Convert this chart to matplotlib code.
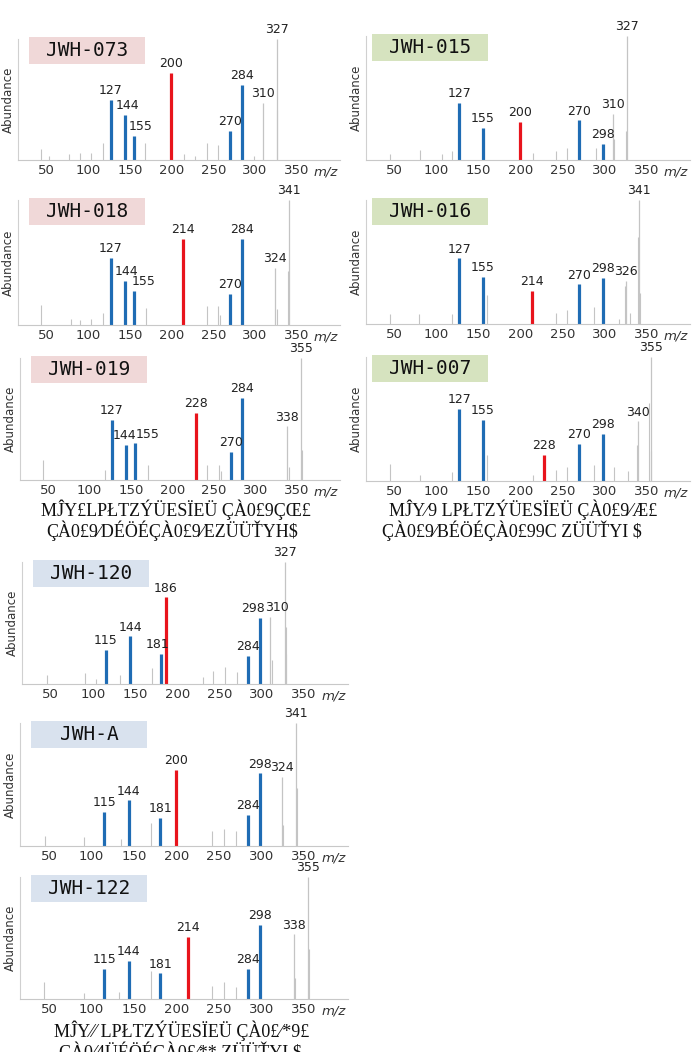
import numpy as np
import matplotlib
matplotlib.use("Agg")
import matplotlib.pyplot as plt
from matplotlib.patches import Rectangle

# compound names and title box colours
names = ["JWH-073", "JWH-015", "JWH-018", "JWH-016", "JWH-019", "JWH-007",
         "JWH-120", "JWH-A", "JWH-122"]
box_colors = ["#f0d8d8", "#d6e3bf", "#f0d8d8", "#d6e3bf", "#f0d8d8", "#d6e3bf",
              "#d9e2ee", "#d9e2ee", "#d9e2ee"]

# labelled blue fragment ions (m/z, relative abundance %)
blue_mz = [
    [127, 144, 155, 270, 284],
    [127, 155, 270, 298],
    [127, 144, 155, 270, 284],
    [127, 155, 270, 298],
    [127, 144, 155, 270, 284],
    [127, 155, 270, 298],
    [115, 144, 181, 284, 298],
    [115, 144, 181, 284, 298],
    [115, 144, 181, 284, 298],
]
blue_ab = [
    [50, 37, 20, 24, 62],
    [46, 26, 32, 13],
    [54, 35, 27, 25, 69],
    [53, 38, 32, 37],
    [49, 29, 30, 23, 67],
    [58, 49, 30, 38],
    [28, 39, 25, 23, 54],
    [28, 37, 23, 25, 59],
    [25, 31, 21, 25, 61],
]
# red key ion
red_mz = [200, 200, 214, 214, 228, 228, 186, 200, 214]
red_ab = [72, 31, 69, 27, 55, 21, 71, 62, 51]

# labelled grey ions
glab_mz = [
    [310, 327], [310, 327], [324, 341], [326, 341], [338, 355], [340, 355],
    [310, 327], [324, 341], [338, 355],
]
glab_ab = [
    [47, 100], [37, 100], [46, 100], [35, 100], [44, 100], [48, 100],
    [55, 100], [56, 100], [53, 100],
]

# unlabelled grey background ions
gray_mz = [
    [44, 53, 77, 90, 103, 118, 168, 215, 228, 242, 256, 299, 326],
    [44, 80, 107, 118, 156, 215, 242, 256, 290, 311, 326],
    [44, 79, 90, 103, 118, 170, 242, 256, 258, 326, 340],
    [44, 79, 118, 160, 242, 256, 288, 318, 324, 330, 340, 342],
    [44, 118, 170, 242, 256, 258, 340, 356],
    [44, 80, 118, 160, 215, 242, 256, 288, 312, 328, 339, 353, 356],
    [46, 91, 104, 132, 170, 230, 242, 256, 270, 312, 328, 329],
    [45, 91, 135, 170, 242, 256, 270, 326, 342],
    [44, 91, 132, 170, 242, 256, 270, 340, 356],
]
gray_ab = [
    [9, 3, 5, 6, 6, 14, 14, 5, 3, 14, 12, 3, 41],
    [5, 8, 5, 7, 22, 6, 7, 10, 10, 17, 23],
    [16, 5, 4, 5, 10, 14, 15, 15, 8, 13, 43],
    [8, 8, 8, 23, 9, 11, 14, 4, 31, 9, 70, 25],
    [16, 8, 12, 12, 12, 7, 11, 25],
    [14, 5, 7, 21, 5, 9, 11, 13, 11, 8, 29, 63, 24],
    [7, 9, 4, 7, 13, 6, 11, 14, 10, 20, 47, 25],
    [8, 7, 6, 19, 12, 14, 12, 17, 47],
    [14, 5, 6, 23, 11, 14, 10, 17, 41],
]

ticks = [50, 100, 150, 200, 250, 300, 350]

garbled = [
    ("M\u0134Y\u00a3LPŁTZÝÜESÏEÜ ÇÀ0£9ÇŒ£", "ÇÀ0£9⁄DÉÖÉÇÀ0£9⁄EZÜÜŤYH$"),
    ("M\u0134Y⁄9 LPŁTZÝÜESÏEÜ ÇÀ0£9⁄Æ£", "ÇÀ0£9⁄BÉÖÉÇÀ0£99C ZÜÜŤYI $"),
    ("M\u0134Y⁄⁄ LPŁTZÝÜESÏEÜ ÇÀ0£⁄*9£", "ÇÀ0⁄4ÜÉÖÉÇÀ0£⁄** ZÜÜŤYI $"),
]

# ---- layout (pixels: left, top, right, bottom) ----
W, H = 696, 1052
rects = [
    (18, 39, 340, 160), (366, 36, 690, 160),
    (18, 200, 340, 325), (366, 200, 690, 324),
    (20, 358, 340, 480), (366, 357, 690, 481),
    (22, 562, 348, 684), (20, 723, 348, 846),
    (20, 877, 348, 999),
]
# label nudges in points (panel index, m/z) -> dx
nudge = {(0, 155): 5, (0, 144): 2, (2, 155): 7, (2, 144): 1,
         (4, 155): 9, (4, 144): -1,
         (6, 298): -5, (6, 310): 5, (6, 181): -3}

blue = "#1f6cb4"
red = "#e8141c"
grey = "#c4c4c4"
txt = "#333333"

fig = plt.figure(figsize=(W / 100, H / 100), dpi=100)

for i, (l, t, r, b) in enumerate(rects):
    ax = fig.add_axes([l / W, 1 - b / H, (r - l) / W, (b - t) / H])
    ax.set_xlim(16, 402)
    ax.set_ylim(0, 100)
    for s in ["top", "right"]:
        ax.spines[s].set_visible(False)
    ax.spines["left"].set_color("#d0d0d0")
    ax.spines["bottom"].set_color("#c8c8c8")
    ax.spines["left"].set_linewidth(0.8)
    ax.spines["bottom"].set_linewidth(0.8)
    ax.set_yticks([])
    ax.set_xticks(ticks)
    ax.tick_params(axis="x", length=0, pad=3, labelsize=9.5, labelcolor=txt)
    ax.set_ylabel("Abundance", fontsize=8.5, color=txt, labelpad=2)

    ax.vlines(gray_mz[i], 0, gray_ab[i], color=grey, lw=0.8)
    ax.vlines(glab_mz[i], 0, glab_ab[i], color=grey, lw=0.9)
    ax.vlines(blue_mz[i], 0, blue_ab[i], color=blue, lw=2.3)
    ax.vlines([red_mz[i]], 0, [red_ab[i]], color=red, lw=2.3)

    allm = blue_mz[i] + [red_mz[i]] + glab_mz[i]
    alla = blue_ab[i] + [red_ab[i]] + glab_ab[i]
    for m, a in zip(allm, alla):
        ax.annotate(str(m), (m, a), xytext=(nudge.get((i, m), 0), 2),
                    textcoords="offset points", ha="center", va="bottom",
                    fontsize=9, color="#222222", annotation_clip=False)

    ax.text(0.955, -0.1, "m/z", transform=ax.transAxes, fontsize=9.5,
            style="italic", color=txt, ha="center", va="center")

    # title box
    bx0 = (l + 11) / W if i % 2 == 0 or i >= 6 else (l + 6) / W
    bw = 116 / W
    bt = 1 - (t - 2) / H
    bh = 27 / H
    fig.patches.append(Rectangle((bx0, bt - bh), bw, bh, transform=fig.transFigure,
                                 facecolor=box_colors[i], edgecolor="none"))
    fig.text(bx0 + bw / 2, bt - bh / 2, names[i], family="DejaVu Sans Mono",
             fontsize=14, ha="center", va="center", color="#111111")

# garbled caption text under panels
cap_pos = [(176, 510, 172, 531), (523, 510, 512, 531), (182, 1031, 180, 1052)]
for (l1, l2), (x1, y1, x2, y2) in zip(garbled, cap_pos):
    fig.text(x1 / W, 1 - y1 / H, l1, family="Liberation Serif", fontsize=13,
             ha="center", va="center", color="#111111")
    fig.text(x2 / W, 1 - y2 / H, l2, family="Liberation Serif", fontsize=13,
             ha="center", va="center", color="#111111")

fig.savefig("out.png", dpi=100)
